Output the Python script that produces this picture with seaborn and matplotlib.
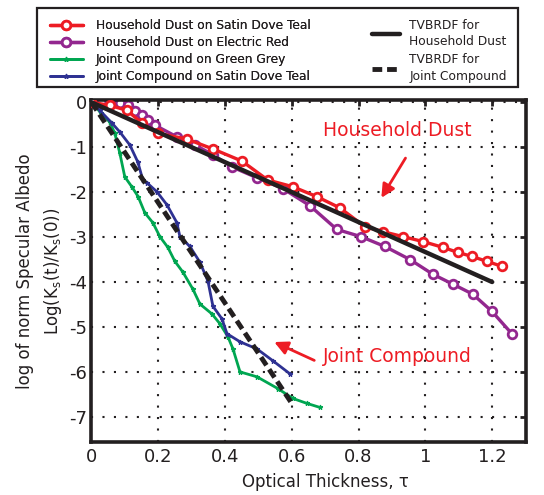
import numpy as np
import pandas as pd
import seaborn as sns
import matplotlib
matplotlib.use("Agg")
import matplotlib.pyplot as plt
from matplotlib.patches import Rectangle

# ---------------- data ----------------
hd_teal_x = [0, 0.055, 0.106, 0.151, 0.199, 0.286, 0.364, 0.451, 0.528, 0.603, 0.675,
             0.744, 0.819, 0.873, 0.933, 0.993, 1.053, 1.097, 1.139, 1.184, 1.229]
hd_teal_y = [0, -0.07, -0.18, -0.46, -0.69, -0.82, -1.04, -1.31, -1.73, -1.88, -2.10,
             -2.35, -2.77, -2.88, -2.99, -3.10, -3.23, -3.34, -3.43, -3.54, -3.65]

hd_red_x = [0, 0.03, 0.06, 0.085, 0.109, 0.13, 0.151, 0.169, 0.19, 0.256, 0.31, 0.364,
            0.421, 0.496, 0.573, 0.654, 0.735, 0.807, 0.879, 0.954, 1.023, 1.083, 1.142,
            1.199, 1.259]
hd_red_y = [0, 0, 0, -0.02, -0.07, -0.20, -0.29, -0.40, -0.51, -0.77, -0.95, -1.17,
            -1.44, -1.68, -1.92, -2.30, -2.83, -2.99, -3.21, -3.50, -3.83, -4.05, -4.27,
            -4.65, -5.15]

jc_green_x = [0, 0.03, 0.055, 0.07, 0.085, 0.1, 0.121, 0.14, 0.16, 0.184, 0.205, 0.229,
              0.25, 0.274, 0.304, 0.325, 0.361, 0.385, 0.409, 0.424, 0.445, 0.496, 0.558,
              0.603, 0.645, 0.684]
jc_green_y = [0, -0.25, -0.44, -0.69, -1.13, -1.66, -1.88, -2.10, -2.46, -2.68, -2.99,
              -3.23, -3.54, -3.78, -4.16, -4.49, -4.71, -4.93, -5.22, -5.49, -6.00, -6.11,
              -6.37, -6.59, -6.70, -6.79]

jc_teal_x = [0, 0.025, 0.061, 0.085, 0.115, 0.139, 0.154, 0.166, 0.196, 0.226, 0.256,
             0.265, 0.295, 0.325, 0.349, 0.364, 0.391, 0.406, 0.445, 0.496, 0.543, 0.594]
jc_teal_y = [0, -0.18, -0.46, -0.66, -0.95, -1.33, -1.73, -1.79, -1.99, -2.28, -2.68,
             -2.99, -3.21, -3.56, -3.98, -4.54, -4.82, -5.15, -5.33, -5.49, -5.75, -6.04]

tv_hd_x = [0, 1.2]
tv_hd_y = [0, -4.0]
tv_jc_x = [0, 0.6]
tv_jc_y = [0, -6.70]

xticks = [0, 0.2, 0.4, 0.6, 0.8, 1.0, 1.2]
xtick_labels = ["0", "0.2", "0.4", "0.6", "0.8", "1", "1.2"]
yticks = [0, -1, -2, -3, -4, -5, -6, -7]
ytick_labels = ["0", "-1", "-2", "-3", "-4", "-5", "-6", "-7"]

RED = "#ED1C24"
PURPLE = "#93278F"
GREEN = "#00A651"
BLUE = "#2E3192"
INK = "#231F20"

# ---------------- figure ----------------
sns.set_style("white")
plt.rcParams["font.family"] = ["DejaVu Sans"]
plt.rcParams["axes.unicode_minus"] = False

fig = plt.figure(figsize=(5.44, 4.95), dpi=100)
ax = fig.add_axes([0.168, 0.108, 0.798, 0.690])

def line(x, y, label, **kw):
    df = pd.DataFrame({"x": x, "y": y})
    sns.lineplot(data=df, x="x", y="y", ax=ax, sort=False, estimator=None,
                 label=label, legend=False, **kw)

line(hd_teal_x, hd_teal_y, "Household Dust on Satin Dove Teal", color=RED, lw=2.4,
     marker="o", markersize=6.2, markerfacecolor="white", markeredgecolor=RED,
     markeredgewidth=2.0, zorder=3)
line(hd_red_x, hd_red_y, "Household Dust on Electric Red", color=PURPLE, lw=2.4,
     marker="o", markersize=6.2, markerfacecolor="white", markeredgecolor=PURPLE,
     markeredgewidth=2.0, zorder=2)
line(jc_green_x, jc_green_y, "Joint Compound on Green Grey", color=GREEN, lw=2.0,
     marker="*", markersize=3.5, markerfacecolor=GREEN, markeredgecolor=GREEN,
     markeredgewidth=0.8, zorder=2)
line(jc_teal_x, jc_teal_y, "Joint Compound on Satin Dove Teal", color=BLUE, lw=2.0,
     marker="*", markersize=3.5, markerfacecolor=BLUE, markeredgecolor=BLUE,
     markeredgewidth=0.8, zorder=3)
line(tv_hd_x, tv_hd_y, "TVBRDF for\nHousehold Dust", color=INK, lw=3.2, zorder=4)
line(tv_jc_x, tv_jc_y, "TVBRDF for\nJoint Compound", color=INK, lw=3.5,
     linestyle=(0, (2, 1)), zorder=4)

ax.set_xlim(0, 1.3)
ax.set_ylim(-7.55, 0.05)
ax.set_xticks(xticks)
ax.set_xticklabels(xtick_labels)
ax.set_yticks(yticks)
ax.set_yticklabels(ytick_labels)
ax.tick_params(axis="both", direction="in", length=4, width=2, labelsize=13,
               top=True, right=True, pad=5, colors=INK)
ax.tick_params(axis="y", pad=3)

ax.grid(True, color=INK, linestyle=(0, (1, 4.5)), linewidth=1.5)
for s in ax.spines.values():
    s.set_linewidth(2.6)
    s.set_color(INK)

ax.set_xlabel("Optical Thickness, τ", fontsize=12, color=INK)
ax.xaxis.set_label_coords(0.538, -0.092)
ax.set_ylabel("log of norm Specular Albedo\nLog(K$_{\\mathrm{s}}$(t)/K$_{\\mathrm{s}}$(0))",
              fontsize=12, color=INK, linespacing=1.45)

# annotations
ax.text(0.915, -0.64, "Household Dust", color=RED, fontsize=13.5, ha="center", va="center")
ax.annotate("", xy=(0.864, -2.18), xytext=(0.945, -1.19),
            arrowprops=dict(arrowstyle="-|>", color=RED, lw=2, mutation_scale=20))
ax.text(0.915, -5.66, "Joint Compound", color=RED, fontsize=13.5, ha="center", va="center")
ax.annotate("", xy=(0.54, -5.31), xytext=(0.675, -5.77),
            arrowprops=dict(arrowstyle="-|>", color=RED, lw=2, mutation_scale=20))

# legend
handles, labels = ax.get_legend_handles_labels()
leg1 = fig.legend(handles[:4], labels[:4], loc="upper left",
                  bbox_to_anchor=(0.091, 0.961), frameon=False, fontsize=8.8,
                  handlelength=2.7, handletextpad=1.1, labelspacing=0.33,
                  borderpad=0, borderaxespad=0)
leg2 = fig.legend(handles[4:], labels[4:], loc="upper left",
                  bbox_to_anchor=(0.683, 0.962), frameon=False, fontsize=8.8,
                  handlelength=2.3, handletextpad=0.8, labelspacing=0.4,
                  borderpad=0, borderaxespad=0)
for t in leg2.get_texts():
    t.set_linespacing(1.35)
for lg in (leg1, leg2):
    for t in lg.get_texts():
        t.set_color(INK)
fig.add_artist(leg1)
fig.patches.append(Rectangle((0.068, 0.824), 0.884, 0.160, transform=fig.transFigure,
                             fill=False, edgecolor=INK, linewidth=1.6))

fig.savefig("out.png", dpi=100)
